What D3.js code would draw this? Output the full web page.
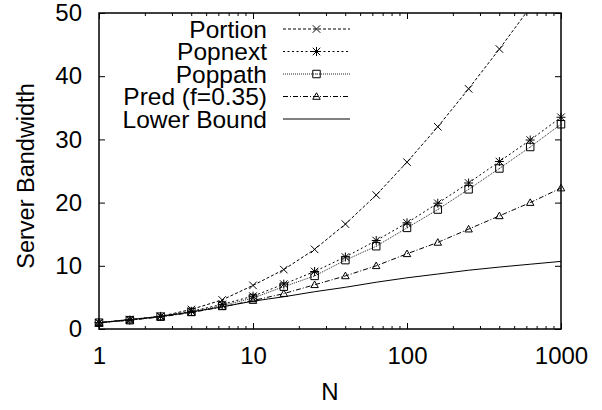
<!DOCTYPE html>
<html>
<head>
<meta charset="utf-8">
<script src="https://cdn.jsdelivr.net/npm/d3@7"></script>
<style>
  body { margin: 0; background: #fff; }
  text { font-family: "Liberation Sans", Arial, sans-serif; }
</style>
</head>
<body>
<div class="chart"></div>
<script>
// N sampled at 10^(k/5)
const nValues = [1, 1.585, 2.512, 3.981, 6.31, 10, 15.85, 25.12, 39.81, 63.1, 100, 158.5, 251.2, 398.1, 631, 1000];
const portion = [1, 1.5, 2.0, 3.1, 4.6, 6.9, 9.4, 12.6, 16.6, 21.2, 26.4, 32.0, 38.0, 44.3, 50.9, 57.6];
const popnext = [1, 1.4, 2.0, 2.8, 3.9, 5.2, 7.1, 9.1, 11.4, 14.0, 16.8, 19.9, 23.1, 26.5, 29.9, 33.5];
const poppath = [1, 1.4, 1.95, 2.7, 3.7, 4.9, 6.7, 8.4, 10.9, 13.1, 16.0, 18.9, 22.1, 25.4, 28.8, 32.4];
const pred = [1, 1.4, 1.9, 2.6, 3.5, 4.5, 5.6, 7.0, 8.4, 10.0, 11.9, 13.7, 15.8, 17.9, 20.0, 22.3];
const lowerBound = [1, 1.5, 2.0, 2.7, 3.5, 4.4, 5.1, 5.9, 6.6, 7.4, 8.1, 8.7, 9.3, 9.8, 10.25, 10.7];

const seriesNames = ["Portion", "Popnext", "Poppath", "Pred (f=0.35)", "Lower Bound"];
const xTicks = [1, 10, 100, 1000];
const yTicks = [0, 10, 20, 30, 40, 50];

const margin = ({top: 13, right: 41, bottom: 81, left: 99});
const width = 602 - margin.left - margin.right,
  height = 410 - margin.top - margin.bottom;

// marker shapes
const symX = {draw(c, s) { const r = Math.sqrt(s) / 2; c.moveTo(-r, -r); c.lineTo(r, r); c.moveTo(r, -r); c.lineTo(-r, r); }};
const symStar = {draw(c, s) {
  const r = Math.sqrt(s) / 2;
  c.moveTo(-r, -r); c.lineTo(r, r); c.moveTo(r, -r); c.lineTo(-r, r);
  c.moveTo(0, -r * 1.2); c.lineTo(0, r * 1.2); c.moveTo(-r * 1.2, 0); c.lineTo(r * 1.2, 0);
}};
const symSquare = {draw(c, s) { const r = Math.sqrt(s) / 2; c.rect(-r, -r, 2 * r, 2 * r); c.moveTo(0, 0); c.lineTo(0.5, 0); }};
const symTri = {draw(c, s) { const r = Math.sqrt(s) / 2; c.moveTo(0, -r); c.lineTo(r, r * 0.75); c.lineTo(-r, r * 0.75); c.closePath(); }};

const series = [
  {name: seriesNames[0], values: portion, dash: "3,2", sym: symX, color: "#000"},
  {name: seriesNames[1], values: popnext, dash: "2,2.5", sym: symStar, color: "#000"},
  {name: seriesNames[2], values: poppath, dash: "1,1", sym: symSquare, color: "#222"},
  {name: seriesNames[3], values: pred, dash: "5,2,1,2", sym: symTri, color: "#000"},
  {name: seriesNames[4], values: lowerBound, dash: null, sym: null, color: "#000"}
];

const svg = d3.select(".chart")
  .append("svg")
  .attr("width", 602)
  .attr("height", 410)
  .append("g")
  .attr("transform", `translate(${margin.left},${margin.top})`);

const xScale = d3.scaleLog()
  .domain([1, 1000])
  .range([0, width]);

const yScale = d3.scaleLinear()
  .domain([0, 50])
  .range([height, 0]);

svg.append("clipPath")
  .attr("id", "plot-clip")
  .append("rect")
  .attr("x", -6).attr("y", 0)
  .attr("width", width + 12).attr("height", height + 6);

// axes: ticks drawn inward, mirrored on top / right
const minor = d3.range(1, 4).flatMap(e => d3.range(2, 10).map(m => m * Math.pow(10, e - 1)));

const xAxisB = d3.axisBottom(xScale).tickValues(xTicks).tickFormat(d3.format("d")).tickSizeInner(-6).tickSizeOuter(0).tickPadding(18);
const xAxisT = d3.axisTop(xScale).tickValues(xTicks).tickFormat("").tickSizeInner(-6).tickSizeOuter(0);
const yAxisL = d3.axisLeft(yScale).tickValues(yTicks).tickSizeInner(-6).tickSizeOuter(0).tickPadding(17);
const yAxisR = d3.axisRight(yScale).tickValues(yTicks).tickFormat("").tickSizeInner(-6).tickSizeOuter(0);

const gx = svg.append("g").attr("class", "axis x-axis").attr("transform", `translate(0,${height})`).call(xAxisB);
const gxt = svg.append("g").attr("class", "axis").call(xAxisT);
const gy = svg.append("g").attr("class", "axis y-axis").call(yAxisL);
const gyr = svg.append("g").attr("class", "axis").attr("transform", `translate(${width},0)`).call(yAxisR);

[gx, gxt, gy, gyr].forEach(g => {
  g.select(".domain").remove();
  g.selectAll(".tick line").attr("stroke", "#000");
  g.selectAll("text").attr("font-size", 24).attr("fill", "#000");
});

// minor log ticks
svg.append("g").selectAll("line.mb")
  .data(minor)
  .join("line")
  .attr("x1", d => xScale(d)).attr("x2", d => xScale(d))
  .attr("y1", height).attr("y2", height - 3)
  .attr("stroke", "#000");
svg.append("g").selectAll("line.mt")
  .data(minor)
  .join("line")
  .attr("x1", d => xScale(d)).attr("x2", d => xScale(d))
  .attr("y1", 0).attr("y2", 3)
  .attr("stroke", "#000");

svg.append("rect")
  .attr("width", width)
  .attr("height", height)
  .attr("fill", "none")
  .attr("stroke", "#000")
  .attr("stroke-width", 1.5);

svg.append("text")
  .attr("transform", `translate(${-65},${height / 2 + 5}) rotate(-90)`)
  .attr("text-anchor", "middle")
  .attr("font-size", 23.5)
  .text("Server Bandwidth");

svg.append("text")
  .attr("x", width / 2)
  .attr("y", height + 71)
  .attr("text-anchor", "middle")
  .attr("font-size", 24)
  .text("N");

const plot = svg.append("g").attr("clip-path", "url(#plot-clip)");

series.forEach(s => {
  const pts = nValues.map((n, i) => ({n: n, v: s.values[i]}));
  const line = d3.line()
    .x(d => xScale(d.n))
    .y(d => yScale(d.v))
    .curve(s.sym ? d3.curveLinear : d3.curveMonotoneX);

  plot.append("path")
    .datum(pts)
    .attr("fill", "none")
    .attr("stroke", s.color)
    .attr("stroke-width", 1)
    .attr("stroke-dasharray", s.dash)
    .attr("d", line);

  if (s.sym) {
    plot.selectAll(null)
      .data(pts.filter(d => d.v <= 50))
      .join("path")
      .attr("transform", d => `translate(${xScale(d.n)},${yScale(d.v)})`)
      .attr("d", d3.symbol(s.sym, 56))
      .attr("fill", "none")
      .attr("stroke", "#000")
      .attr("stroke-width", 1);
  }
});

// legend
const legend = svg.append("g")
  .attr("transform", `translate(${267 - margin.left},${29 - margin.top})`);

series.forEach((s, i) => {
  const row = legend.append("g").attr("transform", `translate(0,${i * 22.5})`);
  row.append("text")
    .attr("x", 0)
    .attr("dy", "0.35em")
    .attr("text-anchor", "end")
    .attr("font-size", 24.5)
    .text(s.name);
  row.append("line")
    .attr("x1", 16).attr("x2", 83)
    .attr("stroke", s.color)
    .attr("stroke-width", 1)
    .attr("stroke-dasharray", s.dash);
  if (s.sym) {
    row.append("path")
      .attr("transform", "translate(49.5,0)")
      .attr("d", d3.symbol(s.sym, 56))
      .attr("fill", "none")
      .attr("stroke", "#000");
  }
});
</script>
</body>
</html>
